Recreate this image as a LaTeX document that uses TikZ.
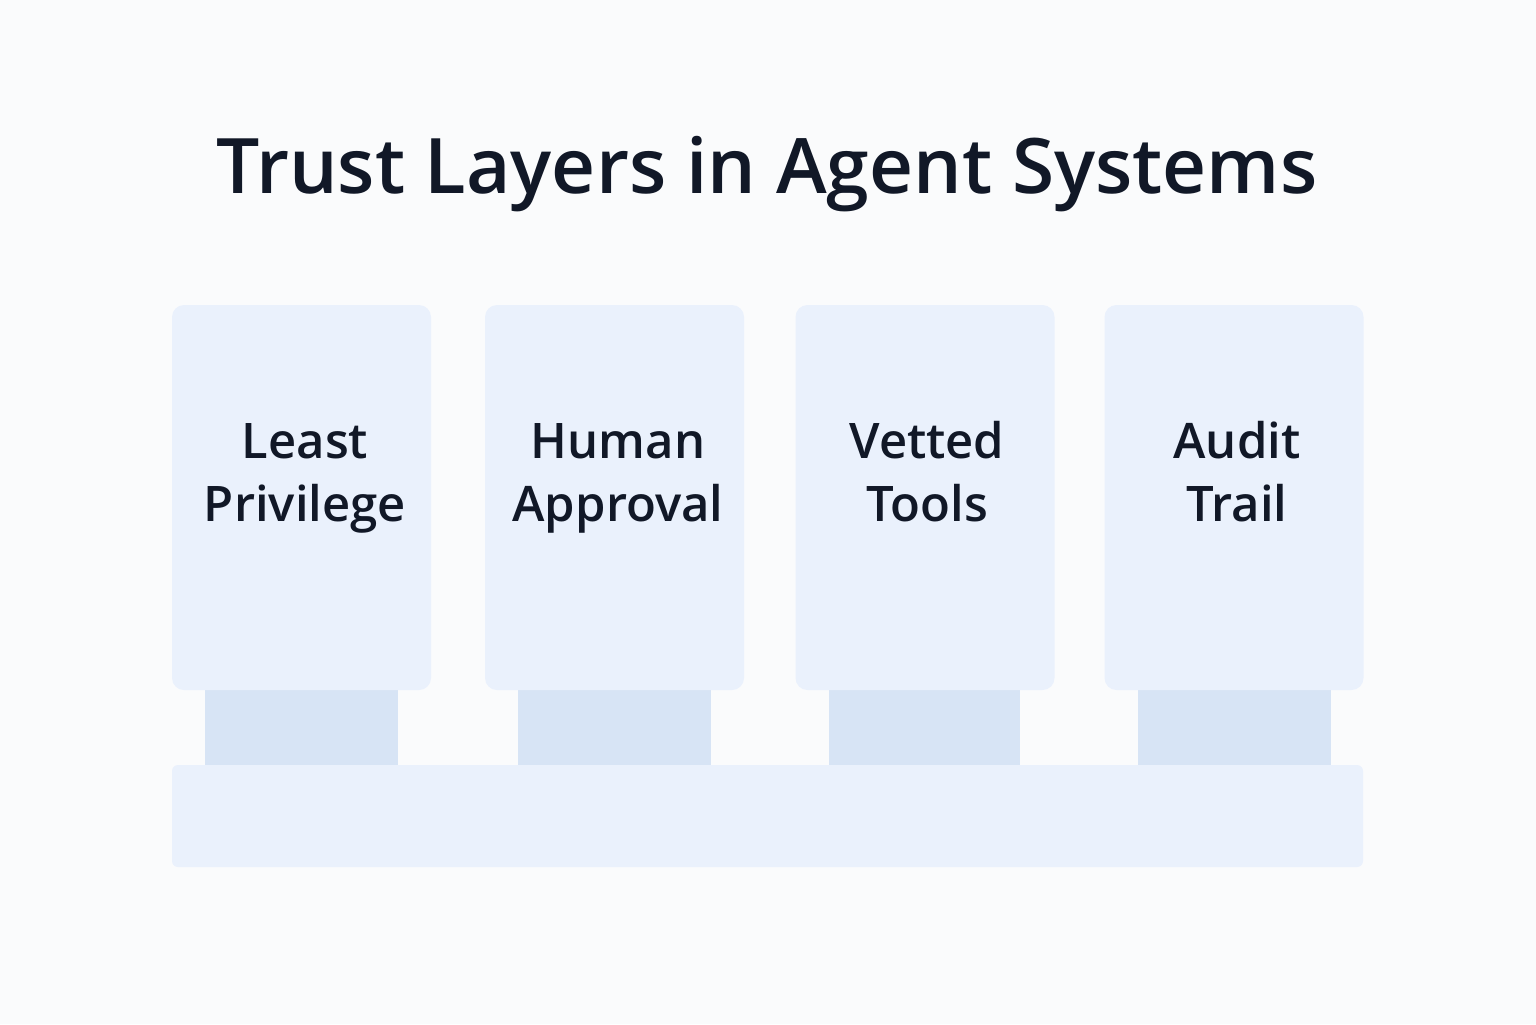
\documentclass[tikz,border=0pt]{standalone}
\usepackage{fontspec}
\setmainfont{Open Sans}[BoldFont={* Semibold},BoldFeatures={}]
\usetikzlibrary{positioning}
\definecolor{bgcol}{HTML}{FAFBFC}
\definecolor{boxcol}{HTML}{EAF1FC}
\definecolor{stemcol}{HTML}{D7E4F5}
\definecolor{inkcol}{HTML}{111827}
\tikzset{%
  layer/.style = {rectangle, rounded corners=6pt, fill=boxcol,%
                  minimum width=129.5pt, minimum height=192.5pt},%
  stem/.style  = {rectangle, fill=stemcol, minimum width=96.5pt,%
                  minimum height=37.5pt, inner sep=0pt},%
  label/.style = {align=center, text=inkcol, anchor=base,%
                  font=\fontsize{24.5}{31.5}\selectfont\bfseries}%
}
\begin{document}
\begin{tikzpicture}[x=0.5pt,y=-0.5pt]
	\fill[bgcol] (0,0) rectangle (1536,1024);
	\useasboundingbox (0,0) rectangle (1536,1024);
	\node (title) at (767,193) [anchor=base, text=inkcol, font=\fontsize{38.3}{44}\selectfont\bfseries] {Trust Layers in Agent Systems};
	% base plate
	\node (base) at (767.5,816) [rectangle, rounded corners=3pt, fill=boxcol,
		minimum width=595.5pt, minimum height=51pt, inner sep=0pt] {};
	% stems
	\node (s1) at (301.5,727.5) [stem] {};
	\node (s2) at (614.5,727.5) [stem] {};
	\node (s3) at (924.5,727.5) [stem, minimum width=95.5pt] {};
	\node (s4) at (1234,727.5) [stem] {};
	% layers
	\node (l1) at (301.5,497.5) [layer] {};
	\node (l2) at (614.5,497.5) [layer] {};
	\node (l3) at (925,497.5) [layer] {};
	\node (l4) at (1234,497.5) [layer] {};
	\node at (305,521) [label] {Least\\Privilege};
	\node at (618,521) [label] {Human\\Approval};
	\node at (927,521) [label] {Vetted\\Tools};
	\node at (1237,521) [label] {Audit\\Trail};
\end{tikzpicture}
\end{document}
